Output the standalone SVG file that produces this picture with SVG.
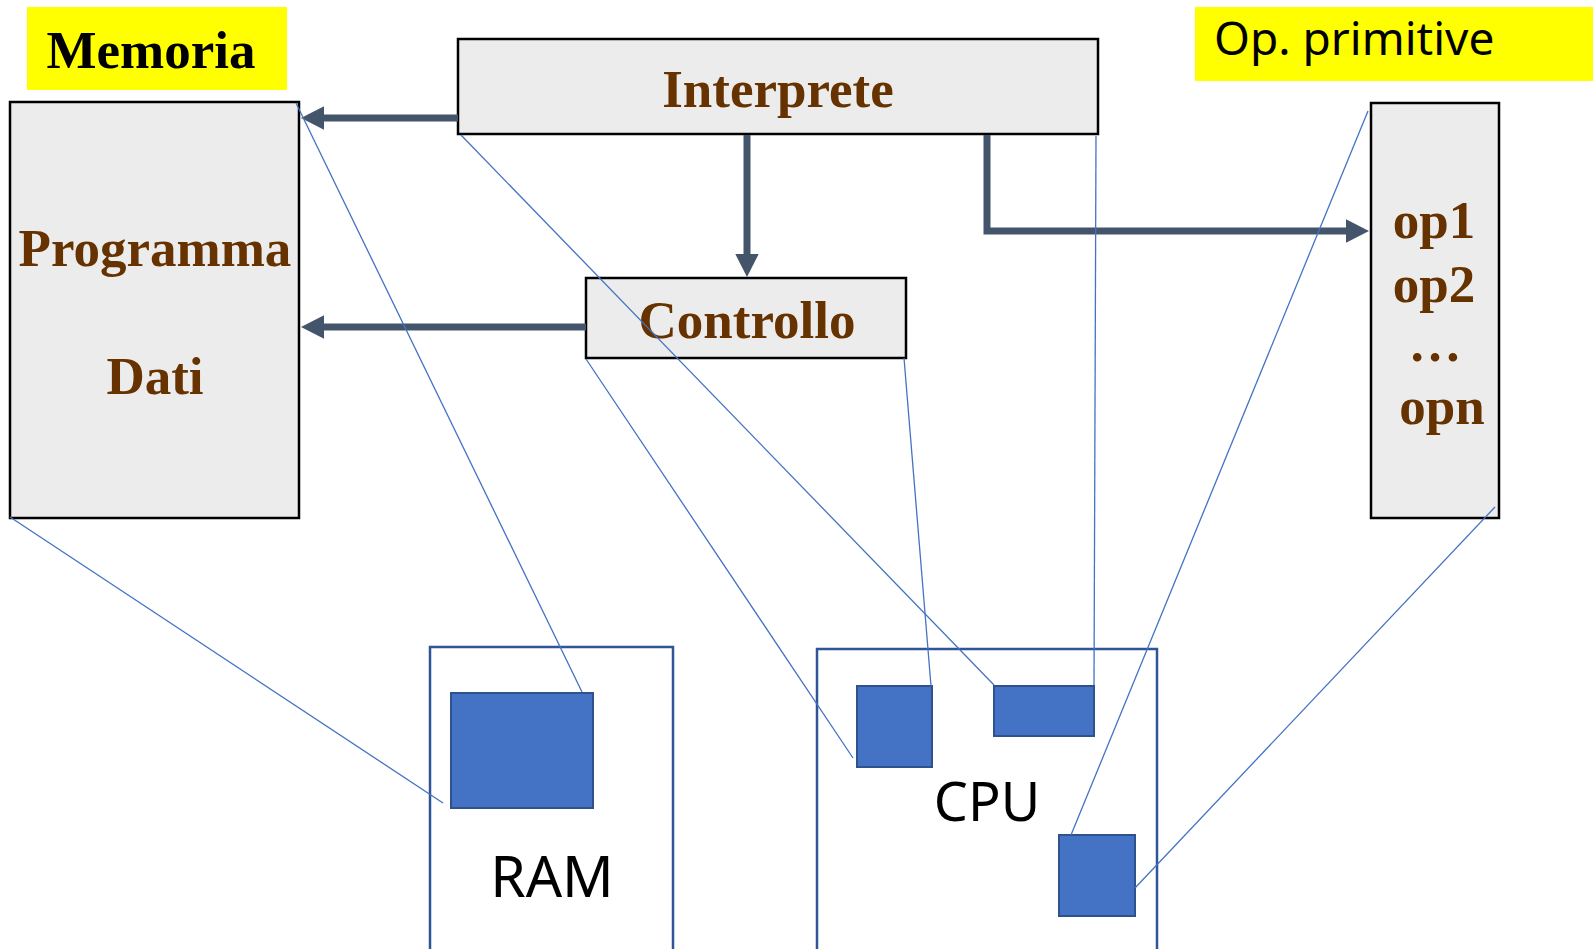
<svg xmlns="http://www.w3.org/2000/svg" width="1593" height="949" viewBox="0 0 1593 949">
<style>
.gbox{fill:#ececec;stroke:#000;stroke-width:2.5}
.lbl{fill:#ffff00}
.brown{font-family:"Liberation Serif","Times New Roman",serif;font-weight:bold;font-size:53px;fill:#663300;text-anchor:middle}
.title{font-family:"Liberation Serif","Times New Roman",serif;font-weight:bold;font-size:53px;fill:#000;text-anchor:middle}
.sans{font-family:"Noto Sans","Open Sans",sans-serif;fill:#000}
.hw{fill:#fff;stroke:#2f5597;stroke-width:2.5}
.chip{fill:#4472c4;stroke:#2f528f;stroke-width:2}
.arr{fill:none;stroke:#44546a;stroke-width:7;marker-end:url(#ah)}
.thin{fill:none;stroke:#4472c4;stroke-width:1.3}
</style>
<defs>
<marker id="ah" markerUnits="userSpaceOnUse" markerWidth="24" markerHeight="24" viewBox="0 -12 24 24" refX="1" refY="0" orient="auto">
<path d="M0,-11.7 L23,0 L0,11.7 Z" fill="#44546a"/>
</marker>
</defs>
<rect width="1593" height="949" fill="#fff"/>

<g id="memoria-label">
<rect class="lbl" x="27" y="7" width="260" height="83"/>
<text class="title" x="151" y="68">Memoria</text>
</g>

<g id="op-label">
<rect class="lbl" x="1195" y="7" width="398" height="74"/>
<text class="sans" x="1214" y="55" font-size="46">Op. primitive</text>
</g>

<g id="memoria">
<rect class="gbox" x="10" y="102" width="289" height="416"/>
<text class="brown" x="155" y="266">Programma</text>
<text class="brown" x="155" y="394">Dati</text>
</g>

<g id="interprete">
<rect class="gbox" x="458" y="39" width="640" height="95"/>
<text class="brown" x="778" y="107">Interprete</text>
</g>

<g id="controllo">
<rect class="gbox" x="586" y="278" width="320" height="80"/>
<text class="brown" x="747" y="338">Controllo</text>
</g>

<g id="operazioni">
<rect class="gbox" x="1371" y="103" width="128" height="415"/>
<text class="brown" x="1434" y="238">op1</text>
<text class="brown" x="1434" y="302">op2</text>
<text class="brown" x="1435" y="361">…</text>
<text class="brown" x="1442" y="424">opn</text>
</g>

<g id="ram">
<rect class="hw" x="430" y="647" width="243" height="310"/>
<rect class="chip" x="451" y="693" width="142" height="115"/>
<text class="sans" x="552" y="897" font-size="57" text-anchor="middle">RAM</text>
</g>

<g id="cpu">
<rect class="hw" x="817" y="649" width="340" height="310"/>
<rect class="chip" x="857" y="686" width="75" height="81"/>
<rect class="chip" x="994" y="686" width="100" height="50"/>
<rect class="chip" x="1059" y="835" width="76" height="81"/>
<text class="sans" x="987" y="821" font-size="54" text-anchor="middle">CPU</text>
</g>

<g id="connectors">
<path class="arr" d="M458,118 L323,118"/>
<path class="arr" d="M586,327 L323,327"/>
<path class="arr" d="M747,135 L747,255"/>
<path class="arr" d="M987,135 L987,231 L1347,231"/>
<line class="thin" x1="10" y1="517" x2="443" y2="803"/>
<line class="thin" x1="296" y1="103" x2="582" y2="692"/>
<line class="thin" x1="461" y1="135" x2="994" y2="685"/>
<line class="thin" x1="586" y1="359" x2="853" y2="758"/>
<line class="thin" x1="904" y1="358" x2="931" y2="686"/>
<line class="thin" x1="1096" y1="136" x2="1094" y2="685"/>
<line class="thin" x1="1368" y1="111" x2="1071" y2="835"/>
<line class="thin" x1="1495" y1="507" x2="1135" y2="888"/>
</g>
</svg>
